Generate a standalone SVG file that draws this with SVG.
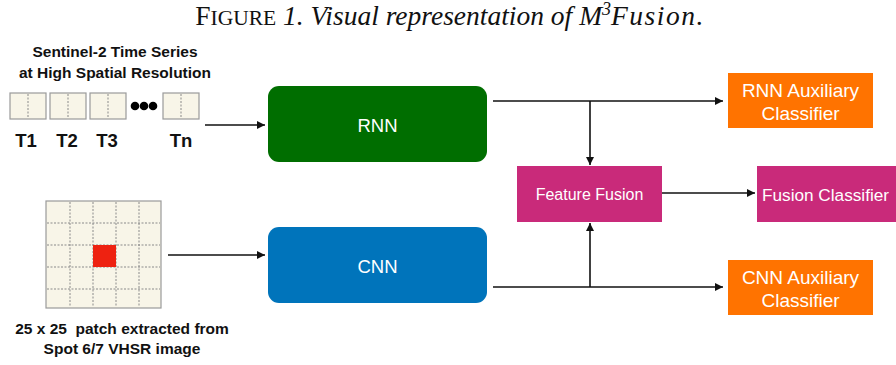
<svg xmlns="http://www.w3.org/2000/svg" width="896" height="365" viewBox="0 0 896 365">
<style>
.lbl{font-family:"Liberation Sans",Arial,sans-serif;font-weight:bold;fill:#111;}
.wt{font-family:"Liberation Sans",Arial,sans-serif;fill:#fff;text-anchor:middle;}
.tile{fill:#f8f5e8;stroke:#9a9a9a;stroke-width:1.2;}
.dash{stroke:#8a8a8a;stroke-width:1;stroke-dasharray:2,1.5;fill:none;}
.conn{stroke:#111;stroke-width:1.6;fill:none;}
.mag{fill:#c92a7a;}
.org{fill:#ff7300;}
</style>
<defs>
<marker id="ah" viewBox="0 0 10 10" refX="10" refY="5" markerWidth="8" markerHeight="8" markerUnits="userSpaceOnUse" orient="auto">
<path d="M0,0 L10,5 L0,10 Z" fill="#111"/>
</marker>
</defs>
<rect width="896" height="365" fill="#fff"/>
<g id="title">
<text x="450" y="25" text-anchor="middle" font-family="'Liberation Serif',Times,serif" font-size="27.5" fill="#111"><tspan>F</tspan><tspan font-size="21.5">IGURE</tspan><tspan font-style="italic"> 1. Visual representation of M</tspan><tspan font-style="italic" font-size="18" dy="-10">3</tspan><tspan font-style="italic" dy="10" letter-spacing="1.5">Fusion.</tspan></text>
</g>
<g id="sentinel">
<text class="lbl" x="115" y="57" font-size="15.5" text-anchor="middle">Sentinel-2 Time Series</text>
<text class="lbl" x="115" y="78" font-size="15.5" text-anchor="middle">at High Spatial Resolution</text>
<rect class="tile" x="10" y="93" width="36" height="26"/>
<line class="dash" x1="28" y1="94" x2="28" y2="118"/>
<rect class="tile" x="50" y="93" width="36" height="26"/>
<line class="dash" x1="68" y1="94" x2="68" y2="118"/>
<rect class="tile" x="90" y="93" width="36" height="26"/>
<line class="dash" x1="108" y1="94" x2="108" y2="118"/>
<circle cx="135" cy="106" r="4.3" fill="#000"/>
<circle cx="144" cy="106" r="4.3" fill="#000"/>
<circle cx="153" cy="106" r="4.3" fill="#000"/>
<rect class="tile" x="163" y="93" width="36" height="26"/>
<line class="dash" x1="181" y1="94" x2="181" y2="118"/>
<text class="lbl" x="26" y="147" font-size="18.5" text-anchor="middle">T1</text>
<text class="lbl" x="67" y="147" font-size="18.5" text-anchor="middle">T2</text>
<text class="lbl" x="107" y="147" font-size="18.5" text-anchor="middle">T3</text>
<text class="lbl" x="181" y="147" font-size="18.5" text-anchor="middle">Tn</text>
</g>
<g id="patch">
<rect class="tile" x="46" y="201" width="115" height="107"/>
<line class="dash" x1="70" y1="202" x2="70" y2="307"/>
<line class="dash" x1="93" y1="202" x2="93" y2="307"/>
<line class="dash" x1="116" y1="202" x2="116" y2="307"/>
<line class="dash" x1="139" y1="202" x2="139" y2="307"/>
<line class="dash" x1="47" y1="223" x2="160" y2="223"/>
<line class="dash" x1="47" y1="245" x2="160" y2="245"/>
<line class="dash" x1="47" y1="267" x2="160" y2="267"/>
<line class="dash" x1="47" y1="289" x2="160" y2="289"/>
<rect x="93" y="245" width="23" height="22" fill="#ee2211"/>
<text class="lbl" x="122" y="334" font-size="15.5" text-anchor="middle" xml:space="preserve">25 x 25  patch extracted from</text>
<text class="lbl" x="122" y="354" font-size="15.5" text-anchor="middle">Spot 6/7 VHSR image</text>
</g>
<g id="rnn">
<rect x="268" y="86" width="219" height="76" rx="11" fill="#006e00"/>
<text class="wt" x="377.5" y="132" font-size="18.5">RNN</text>
</g>
<g id="cnn">
<rect x="268" y="227" width="219" height="76" rx="11" fill="#0074bb"/>
<text class="wt" x="377.5" y="273" font-size="18.5">CNN</text>
</g>
<g id="feature-fusion">
<rect class="mag" x="517" y="166" width="145" height="56"/>
<text class="wt" x="589.5" y="200" font-size="16">Feature Fusion</text>
</g>
<g id="fusion-classifier">
<rect class="mag" x="757" y="166" width="150" height="56"/>
<text x="762" y="201" font-family="'Liberation Sans',Arial,sans-serif" font-size="17.2" fill="#fff">Fusion Classifier</text>
</g>
<g id="rnn-aux">
<rect class="org" x="728" y="73" width="145" height="55"/>
<text class="wt" x="800.5" y="97" font-size="19">RNN Auxiliary</text>
<text class="wt" x="800.5" y="120" font-size="19">Classifier</text>
</g>
<g id="cnn-aux">
<rect class="org" x="728" y="260" width="145" height="55"/>
<text class="wt" x="800.5" y="284" font-size="19">CNN Auxiliary</text>
<text class="wt" x="800.5" y="307" font-size="19">Classifier</text>
</g>
<g id="connectors">
<line class="conn" x1="205" y1="125" x2="265" y2="125" marker-end="url(#ah)"/>
<line class="conn" x1="168" y1="255" x2="265" y2="255" marker-end="url(#ah)"/>
<line class="conn" x1="493" y1="101" x2="723" y2="101" marker-end="url(#ah)"/>
<line class="conn" x1="590" y1="101" x2="590" y2="165" marker-end="url(#ah)"/>
<line class="conn" x1="493" y1="287" x2="723" y2="287" marker-end="url(#ah)"/>
<line class="conn" x1="590" y1="287" x2="590" y2="223" marker-end="url(#ah)"/>
<line class="conn" x1="662" y1="193" x2="755" y2="193" marker-end="url(#ah)"/>
</g>
</svg>
